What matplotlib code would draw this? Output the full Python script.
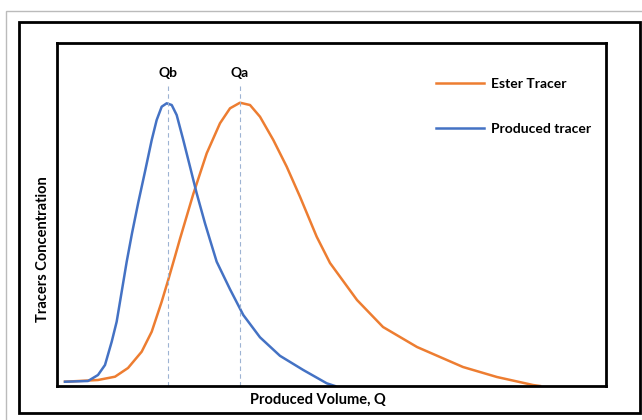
import matplotlib.pyplot as plt
from matplotlib.patches import Rectangle

# Values (x: produced volume, y: concentration, both on a 0-100 scale)
produced_x = [1.45, 5.63, 7.44, 8.71, 9.93, 10.83, 11.74, 12.65, 13.61, 14.75, 15.97,
              17.19, 18.09, 19.00, 19.91, 20.82, 21.72, 22.92, 24.14, 25.35, 26.86,
              27.77, 28.98, 31.40, 33.81, 36.84, 40.47, 44.70, 48.95, 50.45]
produced_y = [1.25, 1.46, 3.21, 6.12, 12.92, 18.75, 27.49, 36.24, 44.5, 53.5, 62.5,
              71.72, 77.55, 81.43, 82.42, 81.92, 79.01, 71.72, 63.94, 56.18, 47.43,
              42.6, 36.24, 28.2, 20.70, 14.2, 8.8, 4.66, 0.79, 0.0]

ester_x = [1.45, 7.44, 10.53, 12.89, 15.37, 17.19, 19.00, 20.20, 21.42, 22.32, 24.74,
           27.17, 29.58, 31.40, 33.21, 35.03, 36.84, 39.26, 41.69, 44.10, 47.13,
           49.55, 54.45, 59.17, 65.34, 73.68, 79.85, 86.39, 87.66]
ester_y = [1.25, 1.75, 2.71, 5.25, 10.00, 15.83, 24.58, 31.0, 37.8, 42.9, 56.0,
           67.84, 76.59, 80.96, 82.59, 81.92, 78.51, 71.72, 63.94, 55.19, 43.53,
           35.86, 25.07, 17.20, 11.37, 5.54, 2.62, 0.29, 0.0]

q_b = 20.1
q_a = 33.2

plt.rcParams['font.family'] = ['Lato', 'DejaVu Sans']
plt.rcParams['font.weight'] = 'bold'

fig = plt.figure(figsize=(6.42, 4.2), dpi=100)

# outer borders
fig.patches.append(Rectangle((6 / 642, -0.01), 1.0, 413.5 / 420, transform=fig.transFigure,
                             fill=False, edgecolor='#bbbbbb', linewidth=1))
fig.patches.append(Rectangle((19 / 642, 7 / 420), 621 / 642, 391 / 420, transform=fig.transFigure,
                             fill=False, edgecolor='black', linewidth=2))

ax = fig.add_axes([57 / 642, 34 / 420, 549 / 642, 343 / 420])
ax.plot(ester_x, ester_y, color='#ed7d31', linewidth=1.8, label='Ester Tracer',
        solid_joinstyle='round')
ax.plot(produced_x, produced_y, color='#4472c4', linewidth=1.8, label='Produced tracer',
        solid_joinstyle='round')

for q in (q_b, q_a):
    ax.plot([q, q], [0, 87.5], color='#9db3d3', linewidth=0.8, linestyle=(0, (4, 3)))
ax.text(q_b, 89.5, 'Qb', ha='center', va='bottom', fontsize=10, fontweight='bold')
ax.text(q_a, 89.5, 'Qa', ha='center', va='bottom', fontsize=10, fontweight='bold')

ax.set_xlim(0, 99.64)
ax.set_ylim(0, 100)
ax.set_xticks([])
ax.set_yticks([])
for s in ax.spines.values():
    s.set_linewidth(2)

fig.text(318 / 642, 1 - 400 / 420, 'Produced Volume, Q', ha='center', va='center',
         fontsize=10.5, fontweight='bold')
fig.text(43 / 642, 1 - 249 / 420, 'Tracers Concentration', ha='center', va='center',
         rotation=90, fontsize=10.5, fontweight='bold')

leg = ax.legend(loc='upper left', bbox_to_anchor=(0.69, 0.898), frameon=False,
                fontsize=10, handlelength=3.5, labelspacing=2.4, handletextpad=0.45,
                borderpad=0, borderaxespad=0)

fig.savefig('out.png', dpi=100)
